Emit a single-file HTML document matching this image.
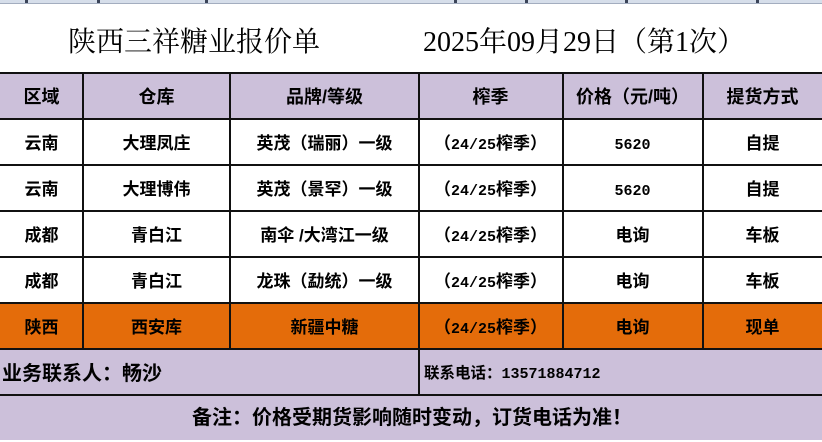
<!DOCTYPE html>
<html>
<head>
<meta charset="utf-8">
<style>
  html,body{margin:0;padding:0;}
  body{width:822px;height:440px;position:relative;overflow:hidden;background:#fff;
    font-family:"Liberation Sans","Noto Sans CJK SC",sans-serif;color:#000;}
  .abs{position:absolute;}
  .topbar{left:0;top:0;width:822px;height:3px;background:#d6deea;border-bottom:1px solid #a3adbf;}
  .mark{position:absolute;top:0;width:3px;height:3px;background:#3b4458;}
  .title{position:absolute;top:23px;height:40px;line-height:40px;font-size:28px;
    font-family:"Liberation Serif","Noto Serif CJK SC",serif;white-space:nowrap;}
  .bg{position:absolute;left:0;width:822px;}
  .h{position:absolute;left:0;width:822px;height:2px;background:#111;}
  .v{position:absolute;width:2px;background:#111;}
  .c{position:absolute;height:46px;line-height:50px;text-align:center;font-weight:bold;
    font-size:17px;font-family:"Liberation Sans","Noto Sans CJK SC",sans-serif;white-space:nowrap;}
  .hd{font-size:18px;line-height:49px;}
  .mono{font-family:"Liberation Mono","Noto Sans CJK SC",monospace;font-size:15px;}
</style>
</head>
<body>
<div class="abs topbar"></div>
<div class="mark" style="left:25px"></div>
<div class="mark" style="left:97px"></div>
<div class="mark" style="left:205px"></div>
<div class="mark" style="left:454px"></div>
<div class="mark" style="left:525px"></div>
<div class="mark" style="left:625px"></div>
<div class="mark" style="left:756px"></div>

<div class="title" style="left:68px;">陕西三祥糖业报价单</div>
<div class="title" style="left:423px;">2025年09月29日（第1次）</div>

<!-- backgrounds -->
<div class="bg" style="top:73px;height:46px;background:#ccc0da;"></div>
<div class="bg" style="top:303px;height:46px;background:#e46c0a;"></div>
<div class="bg" style="top:349px;height:91px;background:#ccc0da;"></div>

<!-- horizontal lines -->
<div class="h" style="top:72px"></div>
<div class="h" style="top:118px"></div>
<div class="h" style="top:164px"></div>
<div class="h" style="top:210px"></div>
<div class="h" style="top:256px"></div>
<div class="h" style="top:302px"></div>
<div class="h" style="top:348px"></div>
<div class="h" style="top:394px"></div>

<!-- vertical lines -->
<div class="v" style="left:82px;top:72px;height:278px"></div>
<div class="v" style="left:229px;top:72px;height:278px"></div>
<div class="v" style="left:418px;top:72px;height:324px"></div>
<div class="v" style="left:562px;top:72px;height:278px"></div>
<div class="v" style="left:702px;top:72px;height:278px"></div>

<!-- header -->
<div class="c hd" style="left:0;width:83px;top:73px;">区域</div>
<div class="c hd" style="left:83px;width:147px;top:73px;">仓库</div>
<div class="c hd" style="left:230px;width:189px;top:73px;">品牌/等级</div>
<div class="c hd" style="left:419px;width:143px;top:73px;">榨季</div>
<div class="c hd" style="left:563px;width:139px;top:73px;">价格（元/吨）</div>
<div class="c hd" style="left:703px;width:119px;top:73px;">提货方式</div>

<!-- row 1 -->
<div class="c" style="left:0;width:83px;top:119px;">云南</div>
<div class="c" style="left:83px;width:147px;top:119px;">大理凤庄</div>
<div class="c" style="left:230px;width:189px;top:119px;">英茂（瑞丽）一级</div>
<div class="c" style="left:419px;width:143px;top:119px;">（<span class="mono">24/25</span>榨季）</div>
<div class="c" style="left:563px;width:139px;top:119px;"><span class="mono">5620</span></div>
<div class="c" style="left:703px;width:119px;top:119px;">自提</div>

<!-- row 2 -->
<div class="c" style="left:0;width:83px;top:165px;">云南</div>
<div class="c" style="left:83px;width:147px;top:165px;">大理博伟</div>
<div class="c" style="left:230px;width:189px;top:165px;">英茂（景罕）一级</div>
<div class="c" style="left:419px;width:143px;top:165px;">（<span class="mono">24/25</span>榨季）</div>
<div class="c" style="left:563px;width:139px;top:165px;"><span class="mono">5620</span></div>
<div class="c" style="left:703px;width:119px;top:165px;">自提</div>

<!-- row 3 -->
<div class="c" style="left:0;width:83px;top:211px;">成都</div>
<div class="c" style="left:83px;width:147px;top:211px;">青白江</div>
<div class="c" style="left:230px;width:189px;top:211px;">南伞 /大湾江一级</div>
<div class="c" style="left:419px;width:143px;top:211px;">（<span class="mono">24/25</span>榨季）</div>
<div class="c" style="left:563px;width:139px;top:211px;">电询</div>
<div class="c" style="left:703px;width:119px;top:211px;">车板</div>

<!-- row 4 -->
<div class="c" style="left:0;width:83px;top:257px;">成都</div>
<div class="c" style="left:83px;width:147px;top:257px;">青白江</div>
<div class="c" style="left:230px;width:189px;top:257px;">龙珠（勐统）一级</div>
<div class="c" style="left:419px;width:143px;top:257px;">（<span class="mono">24/25</span>榨季）</div>
<div class="c" style="left:563px;width:139px;top:257px;">电询</div>
<div class="c" style="left:703px;width:119px;top:257px;">车板</div>

<!-- row 5 orange -->
<div class="c" style="left:0;width:83px;top:303px;">陕西</div>
<div class="c" style="left:83px;width:147px;top:303px;">西安库</div>
<div class="c" style="left:230px;width:189px;top:303px;">新疆中糖</div>
<div class="c" style="left:419px;width:143px;top:303px;">（<span class="mono">24/25</span>榨季）</div>
<div class="c" style="left:563px;width:139px;top:303px;">电询</div>
<div class="c" style="left:703px;width:119px;top:303px;">现单</div>

<!-- contact row -->
<div class="c" style="left:2px;top:349px;text-align:left;font-size:20px;">业务联系人：畅沙</div>
<div class="c" style="left:424px;top:349px;text-align:left;font-size:15.5px;">联系电话：<span class="mono" style="font-size:15px;">13571884712</span></div>

<!-- note row -->
<div class="c" style="left:192px;top:395px;height:45px;line-height:47px;font-size:20px;text-align:left;">备注：价格受期货影响随时变动，订货电话为准！</div>
</body>
</html>
